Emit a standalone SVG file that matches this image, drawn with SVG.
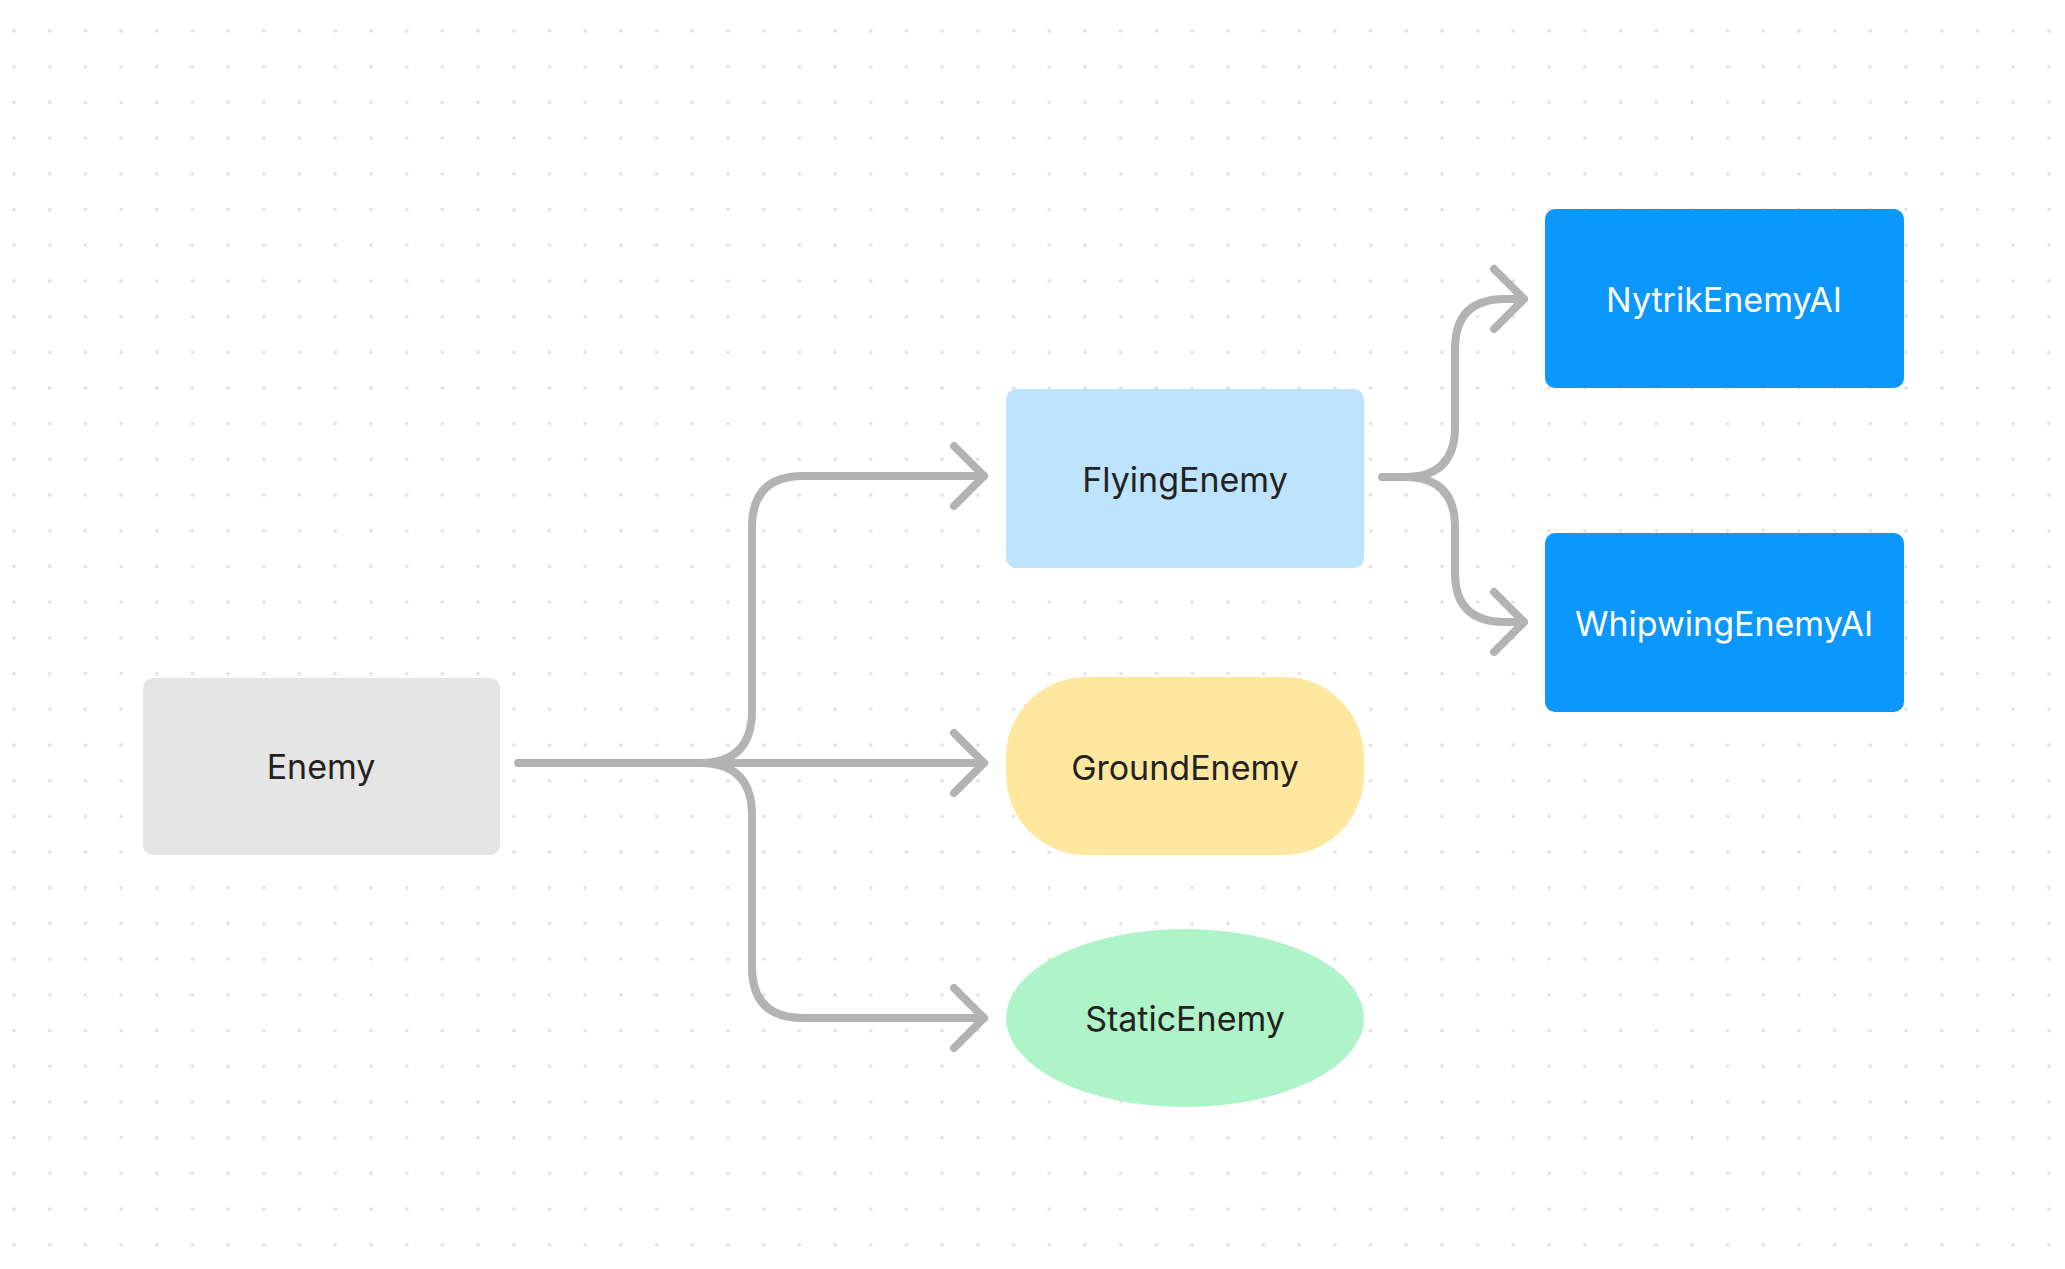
<svg xmlns="http://www.w3.org/2000/svg" width="2065" height="1269" viewBox="0 0 2065 1269">
<defs>
<pattern id="dots" x="0" y="0" width="35.7" height="35.7" patternUnits="userSpaceOnUse" patternTransform="translate(12 29)">
<circle cx="2" cy="2" r="1.8" fill="#dedede"/>
</pattern>
<style>
.t{font-family:Inter,"Liberation Sans",sans-serif;font-size:34px;text-anchor:middle;dominant-baseline:central;fill:#222}
.w{fill:#fff}
.c{fill:none;stroke:#b3b3b3;stroke-width:8;stroke-linecap:round;stroke-linejoin:round}
</style>
</defs>
<rect width="2065" height="1269" fill="#fff"/>
<rect width="2065" height="1269" fill="url(#dots)"/>
<g id="connectors">
<path class="c" d="M518 763 H700 M700 763 Q752 763 752 711 V527 Q752 476 803 476 H984"/>
<path class="c" d="M700 763 Q752 763 752 815 V967 Q752 1018 803 1018 H984"/>
<path class="c" d="M700 763 H984"/>
<path class="c" d="M954 446 L984 476 L954 506 M954 733 L984 763 L954 793 M954 988 L984 1018 L954 1048"/>
<path class="c" d="M1382 477 H1405 Q1455 477 1455 427 V349 Q1455 299 1505 299 H1524"/>
<path class="c" d="M1405 477 Q1455 477 1455 527 V573 Q1455 622 1505 622 H1524"/>
<path class="c" d="M1494 269 L1524 299 L1494 329 M1494 592 L1524 622 L1494 652"/>
</g>
<g id="enemy"><rect x="143" y="678" width="357" height="177" rx="10" fill="#e5e5e5"/><text class="t" x="321" y="766">Enemy</text></g>
<g id="flying"><rect x="1006" y="389" width="358" height="179" rx="10" fill="#bde3fd"/><text class="t" x="1185" y="479">FlyingEnemy</text></g>
<g id="ground"><rect x="1006" y="677" width="358" height="178" rx="80" fill="#fee79f"/><text class="t" x="1185" y="767">GroundEnemy</text></g>
<g id="static"><ellipse cx="1185" cy="1018" rx="179" ry="89" fill="#aff3c8"/><text class="t" x="1185" y="1018">StaticEnemy</text></g>
<g id="nytrik"><rect x="1545" y="209" width="359" height="179" rx="10" fill="#0b97fb"/><text class="t w" x="1724" y="299">NytrikEnemyAI</text></g>
<g id="whipwing"><rect x="1545" y="533" width="359" height="179" rx="10" fill="#0b97fb"/><text class="t w" x="1724" y="623">WhipwingEnemyAI</text></g>
</svg>
